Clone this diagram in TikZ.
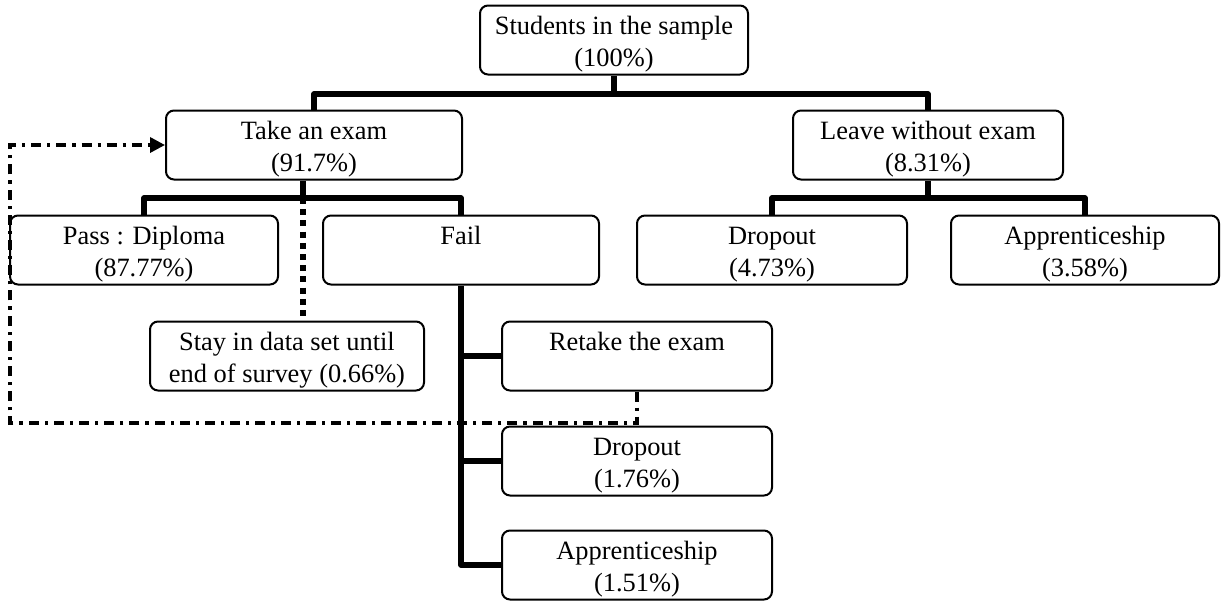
\documentclass[tikz,border=0pt]{standalone}
\usepackage{fontspec}
\setmainfont{Liberation Serif}
\usetikzlibrary{arrows.meta}
\newcommand{\boxlines}[2]{\raisebox{-2pt}[\height][\depth]{%
  \begin{tabular}{@{}c@{}}#1\\#2\end{tabular}}}
\tikzset{
  box/.style={draw, rounded corners=4pt, line width=1pt,
    minimum height=34.5pt, inner sep=1pt, font=\fontsize{13.2}{16}\selectfont},
  branch/.style={line width=2.8pt, line join=round},
  stayline/.style={line width=2.8pt, dash pattern=on 3pt off 2.6pt},
  backline/.style={line width=1.7pt, dash pattern=on 5pt off 3pt on 1.6pt off 3pt,
    -{Triangle[length=7.5pt,width=7.5pt]}},
}
\begin{document}
\begin{tikzpicture}[x=0.5pt,y=-0.5pt]
\useasboundingbox (0,0) rectangle (1221,600);
% boxes
\node[box, minimum width=134pt] (stud) at (614,40) {\boxlines{Students in the sample}{(100\%)}};
\node[box, minimum width=148pt] (take) at (314,145) {\boxlines{Take an exam}{(91.7\%)}};
\node[box, minimum width=135pt] (leave) at (928,145) {\boxlines{Leave without exam}{(8.31\%)}};
\node[box, minimum width=134pt] (pass) at (144,250) {\boxlines{Pass : Diploma}{(87.77\%)}};
\node[box, minimum width=138pt] (fail) at (461,250) {\boxlines{Fail}{\phantom{(0\%)}}};
\node[box, minimum width=135pt] (drop1) at (772,250) {\boxlines{Dropout}{(4.73\%)}};
\node[box, minimum width=134pt] (appr1) at (1085,250) {\boxlines{Apprenticeship}{(3.58\%)}};
\node[box, minimum width=137pt] (stay) at (287,356) {\boxlines{Stay in data set until}{end of survey (0.66\%)}};
\node[box, minimum width=135pt] (retake) at (637,356) {\boxlines{Retake the exam}{\phantom{(0\%)}}};
\node[box, minimum width=135pt] (drop2) at (637,461) {\boxlines{Dropout}{(1.76\%)}};
\node[box, minimum width=135pt] (appr2) at (637,565) {\boxlines{Apprenticeship}{(1.51\%)}};
% tree lines
\coordinate (j1) at (614,94);
\coordinate (j2) at (303,198);
\coordinate (j3) at (928,198);
\draw[branch] (stud) -- (j1);
\draw[branch] (take.north) |- (j1) -| (leave.north);
\draw[branch] (take.south -| j2) -- (j2);
\draw[branch] (pass.north) |- (j2) -| (fail.north);
\draw[branch] (leave) -- (j3);
\draw[branch] (drop1.north) |- (j3) -| (appr1.north);
\draw[stayline] (j2) -- (j2 |- stay.north);
\draw[branch] (fail.south) |- (appr2.west);
\draw[branch] (fail.south |- retake.west) -- (retake.west);
\draw[branch] (fail.south |- drop2.west) -- (drop2.west);
% back to the exam
\coordinate (back) at (10,423);
\draw[backline] (retake.south) |- (back) |- (take.west);
\end{tikzpicture}
\end{document}
